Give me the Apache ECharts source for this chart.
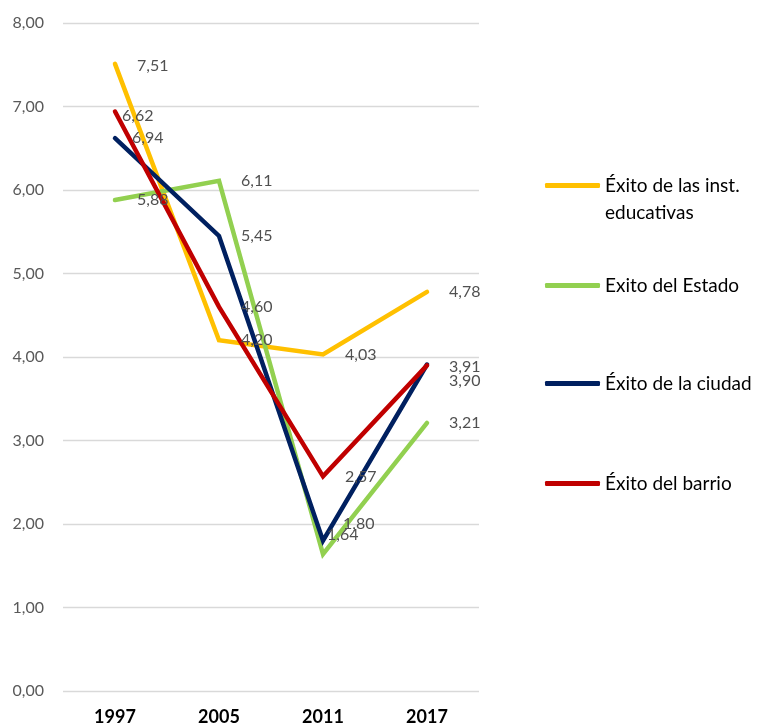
<!DOCTYPE html>
<html>
<head>
<meta charset="utf-8">
<script src="https://cdn.jsdelivr.net/npm/echarts@6/dist/echarts.min.js"></script>
<style>html,body{margin:0;padding:0;background:#fff;}#c{width:759px;height:726px;}</style>
</head>
<body>
<div id="c"></div>
<script>
var years = ['1997', '2005', '2011', '2017'];
var yTicks = [0, 1, 2, 3, 4, 5, 6, 7, 8];
var seriesNames = ['Éxito de las inst. educativas', 'Exito del Estado', 'Éxito de la ciudad', 'Éxito del barrio'];
var instEducativas = [7.51, 4.20, 4.03, 4.78];
var estado = [5.88, 6.11, 1.64, 3.21];
var ciudad = [6.62, 5.45, 1.80, 3.91];
var barrio = [6.94, 4.60, 2.57, 3.90];

var colors = ['#FFC000', '#92D050', '#002060', '#C00000'];
var FONT = 'Lato, "Open Sans", sans-serif';
// manual label nudges (style only)
var labelOffsets = [
  [[0, 2], null, null, null],
  [null, null, [-18, -19], null],
  [[-15, -22], null, [-2, -17], [0, 2]],
  [[-5, 26], null, null, [0, 15]]
];
var allData = [instEducativas, estado, ciudad, barrio];

function fmt(v) { return v.toFixed(2).replace('.', ','); }

var series = allData.map(function (arr, i) {
  return {
    name: seriesNames[i],
    type: 'line',
    data: arr.map(function (v, j) {
      var d = { value: v };
      if (labelOffsets[i][j]) d.label = { offset: labelOffsets[i][j] };
      return d;
    }),
    symbol: 'circle',
    symbolSize: 0.1,
    showSymbol: true,
    itemStyle: { color: colors[i] },
    lineStyle: { color: colors[i], width: 4.5, join: 'miter', cap: 'round' },
    label: {
      show: true,
      position: 'right',
      distance: 22,
      color: '#505050',
      fontFamily: FONT,
      fontSize: 16,
      formatter: function (p) { return fmt(p.value); }
    },
    emphasis: { disabled: true },
    animation: false
  };
});

var legendTops = [185, 285, 383, 483];
var legends = seriesNames.map(function (n, i) {
  var first = i === 0;
  return {
    data: [{ name: n, icon: 'roundRect' }],
    orient: 'vertical',
    left: 545,
    top: first ? legendTops[i] - 40 : legendTops[i] - 13,
    padding: 0,
    itemWidth: 55,
    itemHeight: 5,
    itemGap: 5,
    selectedMode: false,
    formatter: first ? function () { return '\nÉxito de las inst.\neducativas'; } : undefined,
    textStyle: { fontFamily: FONT, fontSize: 19, color: '#000', lineHeight: 27 }
  };
});

var chart = echarts.init(document.getElementById('c'));
chart.setOption({
  animation: false,
  color: colors,
  legend: legends,
  grid: { left: 63, right: 280, top: 23, bottom: 35, containLabel: false },
  xAxis: {
    type: 'category',
    data: years,
    boundaryGap: true,
    axisLine: { show: false },
    axisTick: { show: false },
    axisLabel: { color: '#000', fontWeight: 'bold', fontSize: 18, fontFamily: FONT, margin: 17 }
  },
  yAxis: {
    type: 'value',
    min: yTicks[0],
    max: yTicks[yTicks.length - 1],
    interval: 1,
    axisLine: { show: false },
    axisTick: { show: false },
    splitLine: { lineStyle: { color: '#d9d9d9', width: 1.3 } },
    axisLabel: { color: '#595959', fontSize: 16, fontFamily: FONT, margin: 19, formatter: fmt }
  },
  series: series
});
</script>
</body>
</html>
